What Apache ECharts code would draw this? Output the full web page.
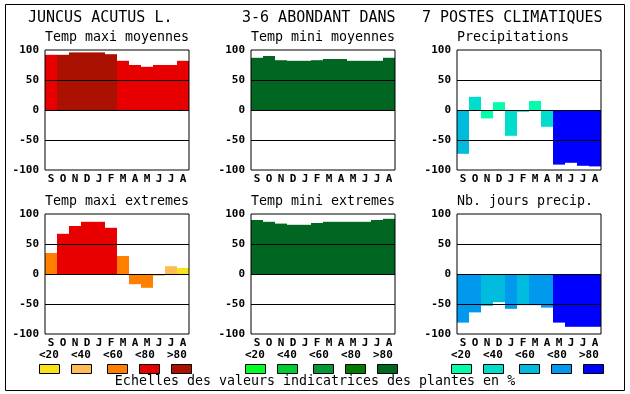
<!DOCTYPE html>
<html><head><meta charset="utf-8">
<script src="https://cdn.jsdelivr.net/npm/echarts@6/dist/echarts.min.js"></script>
<style>html,body{margin:0;padding:0;background:#fff}#c{width:630px;height:394px}</style>
</head><body><div id="c"></div><script>
// ---- data ----
const months = ['S','O','N','D','J','F','M','A','M','J','J','A'];
const yTicks = [-100, -50, 0, 50, 100];
const classLabels = ['<20','<40','<60','<80','>80'];
const redScale = ['#f8e218','#ffbb55','#ff7f00','#e80000','#aa1100'];
const greenScale = ['#00ff22','#00cc33','#009933','#007a00','#006622'];
const blueScale = ['#00ffaa','#00ddcc','#00bbdd','#0099ee','#0000ff'];

const mainTitles = ['JUNCUS ACUTUS L.', '3-6 ABONDANT DANS', '7 POSTES CLIMATIQUES'];
const panelTitles = ['Temp maxi moyennes','Temp mini moyennes','Precipitations',
                     'Temp maxi extremes','Temp mini extremes','Nb. jours precip.'];
const footer = 'Echelles des valeurs indicatrices des plantes en %';

const tempMaxiMoy      = [92, 92, 96, 96, 96, 93, 82, 75, 72, 75, 75, 82];
const tempMaxiMoyClass = [3, 4, 4, 4, 4, 4, 3, 3, 3, 3, 3, 3];
const tempMiniMoy      = [87, 90, 83, 82, 82, 83, 85, 85, 82, 82, 82, 87];
const tempMiniMoyClass = [4, 4, 4, 4, 4, 4, 4, 4, 4, 4, 4, 4];
const precip           = [-73, 22, -14, 13, -43, -3, 15, -28, -91, -88, -93, -94];
const precipClass      = [2, 1, 0, 0, 1, 1, 0, 1, 4, 4, 4, 4];
const tempMaxiExt      = [35, 67, 80, 87, 87, 77, 30, -17, -23, -3, 13, 10];
const tempMaxiExtClass = [2, 3, 3, 3, 3, 3, 2, 2, 2, 1, 1, 0];
const tempMiniExt      = [90, 87, 84, 82, 82, 85, 87, 87, 87, 87, 90, 92];
const tempMiniExtClass = [4, 4, 4, 4, 4, 4, 4, 4, 4, 4, 4, 4];
const nbJours          = [-81, -64, -53, -47, -58, -52, -52, -56, -81, -88, -88, -88];
const nbJoursClass     = [3, 3, 2, 2, 3, 2, 3, 3, 4, 4, 4, 4];

// ---- layout ----
const colX = [45, 251, 457];
const rowY = [50, 214];
const PW = 144, PH = 120;
const panels = [
  {v: tempMaxiMoy, c: tempMaxiMoyClass, s: redScale},
  {v: tempMiniMoy, c: tempMiniMoyClass, s: greenScale},
  {v: precip, c: precipClass, s: blueScale},
  {v: tempMaxiExt, c: tempMaxiExtClass, s: redScale},
  {v: tempMiniExt, c: tempMiniExtClass, s: greenScale},
  {v: nbJours, c: nbJoursClass, s: blueScale}
];
const FONT = '"DejaVu Sans Mono", "Liberation Mono", monospace';

const grid = [], xAxis = [], yAxis = [], series = [], graphic = [];
panels.forEach((p, i) => {
  const cx = colX[i % 3], cy = rowY[Math.floor(i / 3)];
  grid.push({left: cx, top: cy, width: PW, height: PH, show: true,
    borderColor: '#000', borderWidth: 1, backgroundColor: 'rgba(0,0,0,0)', z: 10});
  xAxis.push({type: 'category', gridIndex: i, data: months,
    axisLine: {show: false}, axisTick: {show: false}, splitLine: {show: false},
    axisLabel: {interval: 0, margin: 4, color: '#000', fontFamily: FONT, fontWeight: 'bold', fontSize: 11}});
  yAxis.push({type: 'value', gridIndex: i, min: yTicks[0], max: yTicks[yTicks.length - 1], interval: 50,
    axisLine: {show: false}, axisTick: {show: false}, splitLine: {show: false},
    axisLabel: {margin: 6, color: '#000', fontFamily: FONT, fontWeight: 'bold', fontSize: 11}});
  series.push({type: 'bar', xAxisIndex: i, yAxisIndex: i, barCategoryGap: '0%',
    data: p.v.map((v, k) => ({value: v, itemStyle: {color: p.s[p.c[k]]}})),
    silent: true, animation: false,
    markLine: {silent: true, symbol: ['none', 'none'], label: {show: false},
      lineStyle: {color: '#000', width: 1, type: 'solid'}, animation: false,
      data: yTicks.slice(1, -1).map(t => ({yAxis: t}))}
  });
  graphic.push({type: 'text', style: {text: panelTitles[i], x: cx, y: cy - 12,
    font: '13.3px ' + FONT, fill: '#000', textAlign: 'left', textVerticalAlign: 'middle', align: 'left', verticalAlign: 'middle'}});
});

const titleX = [28, 242, 422];
mainTitles.forEach((t, i) => graphic.push({type: 'text', style: {text: t, x: titleX[i], y: 18,
  font: '15px ' + FONT, fill: '#000', textAlign: 'left', textVerticalAlign: 'middle', align: 'left', verticalAlign: 'middle'}}));

const scales = [redScale, greenScale, blueScale];
const legendBase = [39, 245, 451];
const boxOff = [0, 32, 68, 100, 132];
scales.forEach((sc, j) => {
  classLabels.forEach((lab, k) => {
    graphic.push({type: 'text', style: {text: lab, x: legendBase[j] + 32 * k, y: 355,
      font: 'bold 11px ' + FONT, fill: '#000', textAlign: 'left', textVerticalAlign: 'middle', align: 'left', verticalAlign: 'middle'}});
    graphic.push({type: 'rect', shape: {x: legendBase[j] + boxOff[k] + 0.5, y: 364.5, width: 20, height: 9},
      style: {fill: sc[k], stroke: '#000', lineWidth: 1}});
  });
});
graphic.push({type: 'text', style: {text: footer, x: 315, y: 382,
  font: '13.3px ' + FONT, fill: '#000', textAlign: 'center', textVerticalAlign: 'middle', align: 'center', verticalAlign: 'middle'}});
graphic.push({type: 'rect', shape: {x: 5.5, y: 4.5, width: 619, height: 386},
  style: {fill: 'none', stroke: '#000', lineWidth: 1}, z: 100});

const chart = echarts.init(document.getElementById('c'), null, {renderer: 'canvas'});
chart.setOption({animation: false, backgroundColor: '#fff', grid, xAxis, yAxis, series, graphic});
</script></body></html>
